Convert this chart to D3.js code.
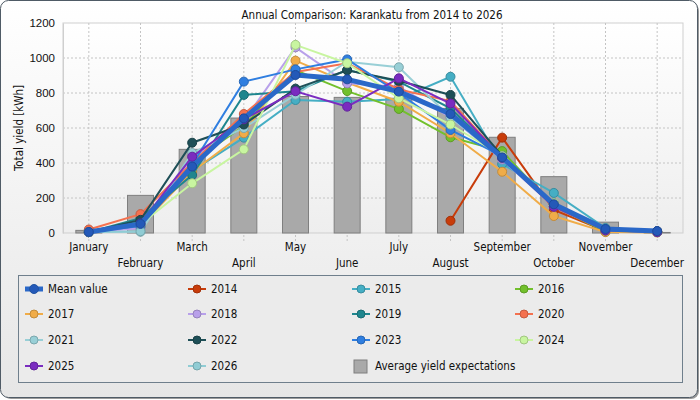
<!DOCTYPE html>
<html lang="en">
<head>
<meta charset="UTF-8">
<title>Annual Comparison</title>
<script src="https://d3js.org/d3.v7.min.js"></script>
<style>
  html, body { margin: 0; padding: 0; background: #fff; }
  svg { display: block; font-family: "DejaVu Sans Condensed", "DejaVu Sans", Verdana, sans-serif; }
</style>
</head>
<body>
<div id="chart"></div>
<script>
  const months = ["January", "February", "March", "April", "May", "June", "July",
    "August", "September", "October", "November", "December"];
  const yTicks = [0, 200, 400, 600, 800, 1000, 1200];

  // average yield expectations (bars)
  const expected = [15, 215, 478, 657, 780, 775, 770, 712, 547, 322, 62, 3];
  const meanValue = [6, 52, 380, 655, 903, 878, 808, 680, 432, 164, 23, 11];

  const years = ["2014", "2015", "2016", "2017", "2018", "2019", "2020",
    "2021", "2022", "2023", "2024", "2025", "2026"];
  const yearValues = [
    [null, null, null, null, null, null, null, 70, 545, 132, 12, 8],
    [5, 70, 355, 545, 760, 750, 766, 893, 394, 229, 28, 10],
    [5, 60, 407, 611, 931, 811, 709, 547, 468, 150, 8, 5],
    [5, 40, 350, 570, 985, 860, 750, 570, 350, 97, 5, 3],
    [5, 27, 423, 640, 1061, 855, 836, 661, 420, 150, 15, 5],
    [5, 85, 331, 789, 810, 931, 865, 712, 430, 170, 20, 10],
    [20, 108, 400, 680, 920, 970, 820, 754, 430, 150, 15, 10],
    [5, 7, 457, 600, 790, 979, 947, 660, 430, 170, 20, 5],
    [5, 75, 516, 620, 825, 930, 870, 789, 440, 165, 15, 5],
    [5, 40, 390, 865, 935, 992, 800, 589, 440, 165, 20, 10],
    [5, 50, 284, 478, 1075, 970, 770, 620, 440, 170, 15, 5],
    [5, 55, 436, 650, 810, 722, 884, 740, 430, 150, 15, 5],
    [5, 10, null, null, null, null, null, null, null, null, null, null]
  ];
  const yearColors = ["#c83c0a", "#45aec4", "#72c02c", "#f0ac48", "#b8a0ea", "#1e868e",
    "#f4714f", "#98cfd6", "#1e4f57", "#2f7ee0", "#c8f5a0", "#7a2cc0", "#90ccd4"];
  const meanColor = "#2a68c8";

  const width = 700, height = 400;
  const margin = { top: 23, right: 17, bottom: 167, left: 63 };
  const svg = d3.select("#chart").append("svg").attr("width", width).attr("height", height);

  const defs = svg.append("defs");
  const bg = defs.append("linearGradient").attr("id", "bg").attr("x1", 0).attr("y1", 0).attr("x2", 0).attr("y2", 1);
  bg.append("stop").attr("offset", "0%").attr("stop-color", "#ffffff");
  bg.append("stop").attr("offset", "100%").attr("stop-color", "#e6e6e6");
  const pg = defs.append("linearGradient").attr("id", "pg").attr("x1", 0).attr("y1", 0).attr("x2", 0).attr("y2", 1);
  pg.append("stop").attr("offset", "0%").attr("stop-color", "#ffffff");
  pg.append("stop").attr("offset", "100%").attr("stop-color", "#eeeeee");

  // outer frame with shadow
  svg.append("rect").attr("x", 3).attr("y", 3).attr("width", width - 4).attr("height", height - 4)
    .attr("rx", 8).attr("fill", "#9a9a9a");
  svg.append("rect").attr("x", 0.5).attr("y", 0.5).attr("width", width - 3).attr("height", height - 3)
    .attr("rx", 8).attr("fill", "url(#bg)").attr("stroke", "#4f5b66");

  const x = d3.scaleBand().domain(months).range([margin.left, width - margin.right]);
  const y = d3.scaleLinear().domain([0, 1200]).range([height - margin.bottom, margin.top]);
  const cx = m => x(m) + x.bandwidth() / 2;

  // plot background
  svg.append("rect").attr("x", margin.left).attr("y", margin.top)
    .attr("width", width - margin.left - margin.right).attr("height", y(0) - margin.top)
    .attr("fill", "url(#pg)").attr("stroke", "#cfcfcf");

  // grid
  svg.append("g").selectAll("line").data(yTicks.slice(1, -1)).join("line")
    .attr("x1", margin.left).attr("x2", width - margin.right)
    .attr("y1", d => y(d)).attr("y2", d => y(d))
    .attr("stroke", "#c4c4c4").attr("stroke-dasharray", "2,2");
  svg.append("g").selectAll("line").data(months).join("line")
    .attr("x1", cx).attr("x2", cx)
    .attr("y1", margin.top).attr("y2", y(0) + 8)
    .attr("stroke", "#c4c4c4").attr("stroke-dasharray", "2,2");

  // y axis
  const yAxis = svg.append("g").attr("transform", `translate(${margin.left},0)`)
    .call(d3.axisLeft(y).tickValues(yTicks).tickFormat(d3.format("d")).tickSize(0).tickPadding(8));
  yAxis.select(".domain").attr("stroke", "#cfcfcf");
  yAxis.selectAll("text").attr("font-size", 11.5).attr("fill", "#111");

  svg.append("text").attr("transform", `translate(23,${(margin.top + y(0)) / 2}) rotate(-90)`)
    .attr("text-anchor", "middle").attr("font-size", 11.5).attr("fill", "#111").text("Total yield [kWh]");

  // x labels, staggered
  svg.append("g").selectAll("text").data(months).join("text")
    .attr("x", cx).attr("y", (d, i) => i % 2 === 0 ? y(0) + 18 : y(0) + 34)
    .attr("text-anchor", "middle").attr("font-size", 11.5).attr("fill", "#111").text(d => d);

  svg.append("text").attr("x", 372).attr("y", 19).attr("text-anchor", "middle")
    .attr("font-size", 11.5).attr("fill", "#111").text("Annual Comparison: Karankatu from 2014 to 2026");

  // bars
  const barW = 26;
  svg.append("g").selectAll("rect").data(expected).join("rect")
    .attr("x", (d, i) => cx(months[i]) - barW / 2).attr("width", barW)
    .attr("y", d => y(d)).attr("height", d => y(0) - y(d))
    .attr("fill", "#a9a9a9").attr("stroke", "#7f7f7f");

  const line = d3.line().defined(d => d.v != null).x(d => cx(d.m)).y(d => y(d.v));
  const toPts = vals => vals.map((v, i) => ({ m: months[i], v: v }));

  years.forEach((yr, k) => {
    const pts = toPts(yearValues[k]);
    const col = yearColors[k];
    svg.append("path").attr("d", line(pts)).attr("fill", "none")
      .attr("stroke", col).attr("stroke-width", 2);
    svg.append("g").selectAll("circle").data(pts.filter(p => p.v != null)).join("circle")
      .attr("cx", d => cx(d.m)).attr("cy", d => y(d.v)).attr("r", 4.5)
      .attr("fill", col).attr("stroke", d3.color(col).darker(0.6)).attr("stroke-width", 1);
  });

  const meanPts = toPts(meanValue);
  svg.append("path").attr("d", line(meanPts)).attr("fill", "none")
    .attr("stroke", meanColor).attr("stroke-width", 5).attr("stroke-linejoin", "round");
  svg.append("g").selectAll("circle").data(meanPts).join("circle")
    .attr("cx", d => cx(d.m)).attr("cy", d => y(d.v)).attr("r", 4.5)
    .attr("fill", "#2459b8").attr("stroke", "#1c4a9a");

  // legend
  svg.append("rect").attr("x", 18.5).attr("y", 275.5).attr("width", 664).attr("height", 107)
    .attr("fill", "#ebebeb").attr("stroke", "#6f7f8c");

  const legendItems = [{ label: "Mean value", color: meanColor, mean: true }]
    .concat(years.map((yr, k) => ({ label: yr, color: yearColors[k] })))
    .concat([{ label: "Average yield expectations", bar: true }]);
  const colX = [25, 188, 352, 515], rowY = [289, 314, 340, 366];

  const li = svg.append("g").selectAll("g").data(legendItems).join("g")
    .attr("transform", (d, i) => `translate(${colX[i % 4]},${rowY[Math.floor(i / 4)]})`);
  li.each(function (d) {
    const g = d3.select(this);
    if (d.bar) {
      g.append("rect").attr("x", 2).attr("y", -6).attr("width", 13).attr("height", 13)
        .attr("fill", "#a9a9a9").attr("stroke", "#7f7f7f");
    } else {
      g.append("line").attr("x1", 0).attr("x2", 18).attr("y1", 0).attr("y2", 0)
        .attr("stroke", d.color).attr("stroke-width", d.mean ? 5 : 2);
      g.append("circle").attr("cx", 9).attr("cy", 0).attr("r", d.mean ? 4.5 : 4)
        .attr("fill", d.mean ? "#2459b8" : d.color)
        .attr("stroke", d3.color(d.color).darker(0.6));
    }
    g.append("text").attr("x", 23).attr("y", 4).attr("font-size", 11.5).attr("fill", "#111").text(d.label);
  });
</script>
</body>
</html>
